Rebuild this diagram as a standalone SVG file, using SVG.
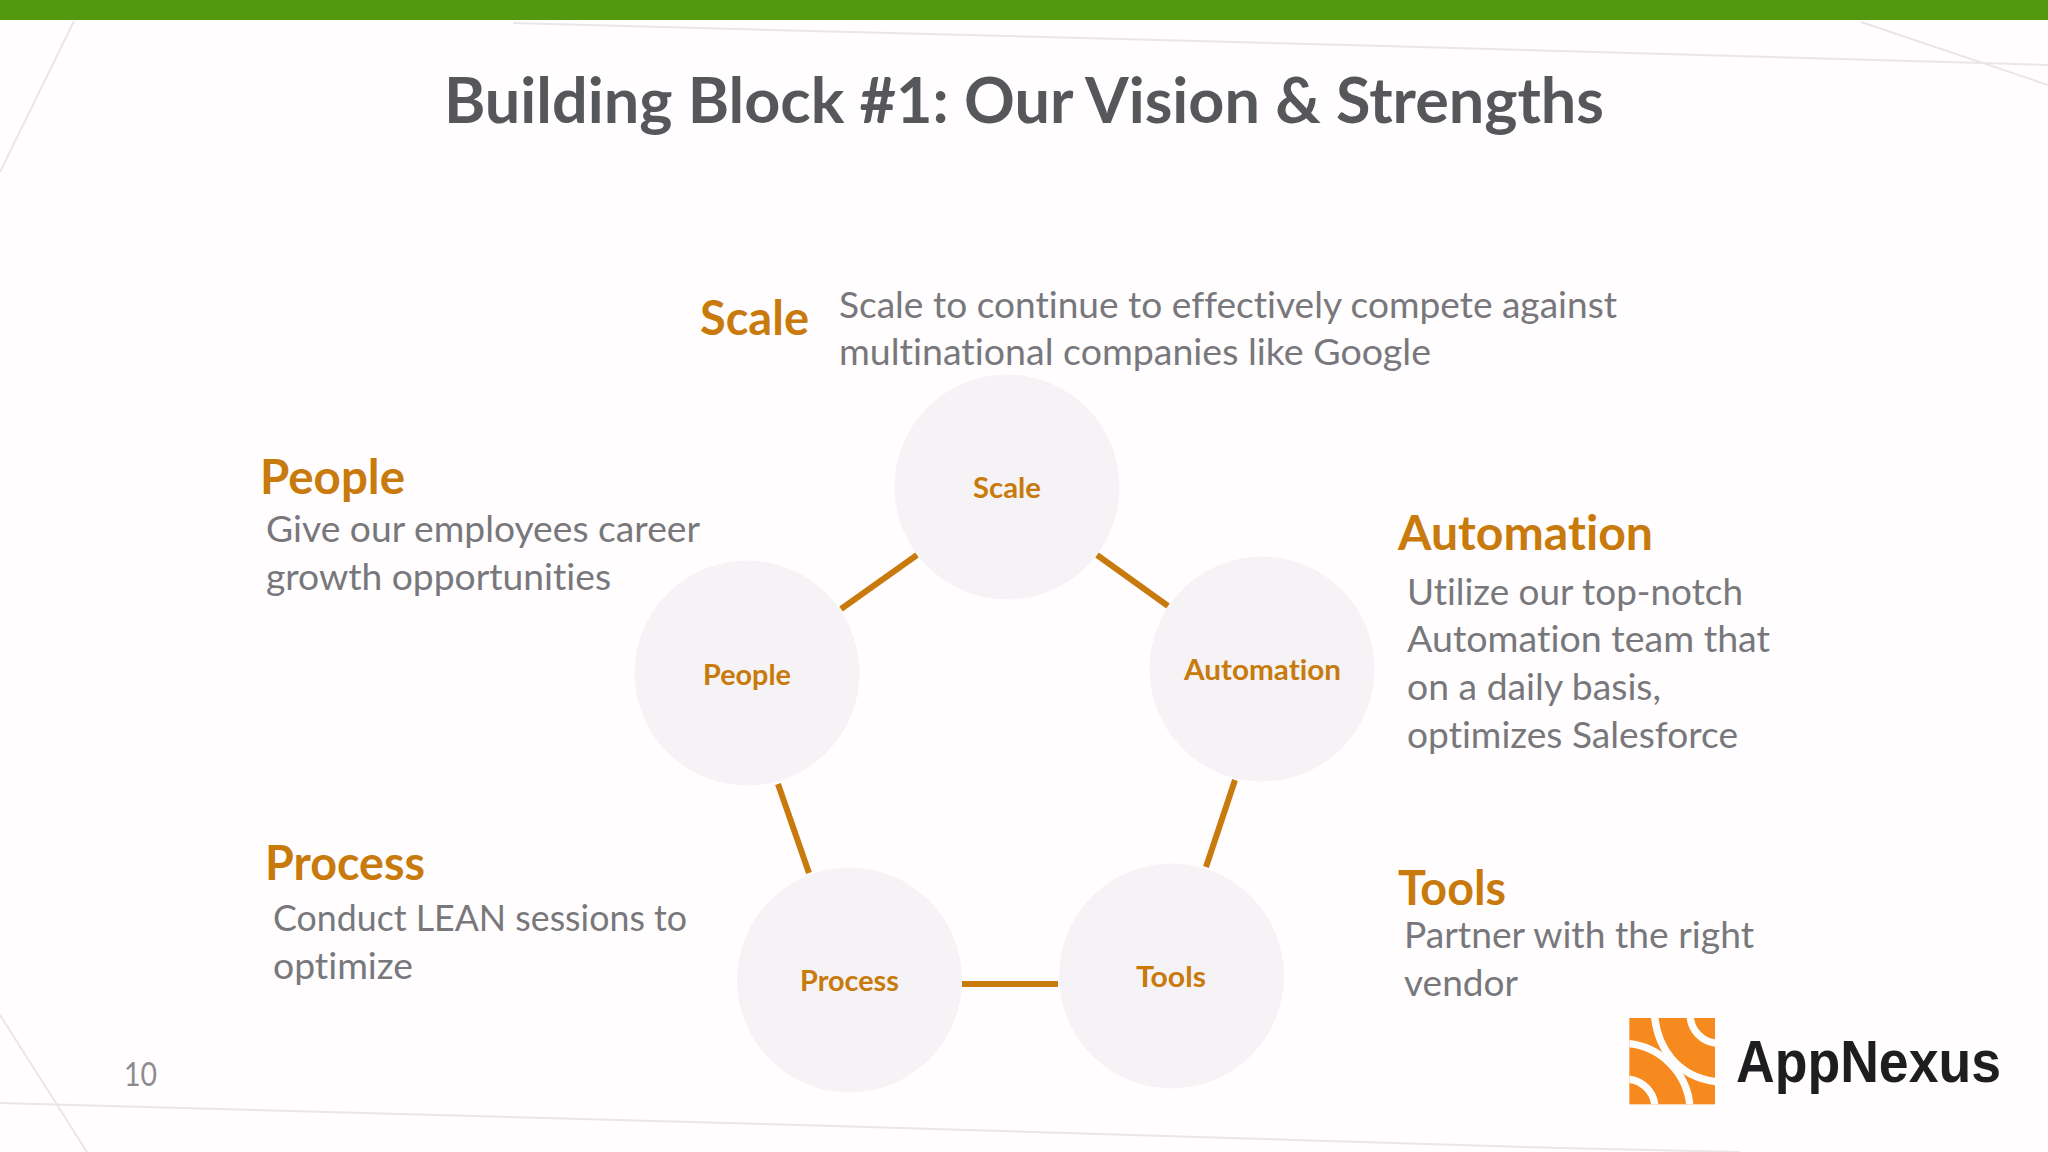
<svg xmlns="http://www.w3.org/2000/svg" width="2048" height="1152" viewBox="0 0 2048 1152">
<style>
text{font-family:Lato,"Open Sans","Liberation Sans",sans-serif;font-variant-ligatures:none}
.title{font-size:63px;font-weight:700;fill:#55575a}
.head{font-size:47px;font-weight:700;fill:#c87a0c}
.desc{font-size:37px;fill:#78787c}
.lab{font-size:29px;font-weight:700;fill:#c87a0c}
.node{fill:#f5f3f5}
.con{stroke:#c87a0c;stroke-width:6;fill:none}
.bg{stroke:#e8e6ea;stroke-width:2;fill:none}
.arc{fill:none;stroke:#fdfdfd;stroke-width:22}
</style>
<rect width="2048" height="1152" fill="#fffdfe"/>
<rect width="2048" height="20" fill="#52990f"/>
<g id="background-lines">
<path class="bg" d="M513 23L700 28L1348 45L2048 65"/>
<path class="bg" d="M1861 22L2048 85"/>
<path class="bg" d="M74 21L0 172"/>
<path class="bg" d="M0 1103L800 1125L1560 1148L1740 1152"/>
<path class="bg" d="M0 1015L87 1152"/>
</g>
<text class="title" x="444" y="123" textLength="1160" lengthAdjust="spacingAndGlyphs">Building Block #1: Our Vision &amp; Strengths</text>
<g id="connectors">
<path class="con" d="M1097 555L1168 606"/>
<path class="con" d="M917 555L841 609"/>
<path class="con" d="M778 784L809 873"/>
<path class="con" d="M1235 780L1206 867"/>
<path class="con" d="M962 984L1058 984"/>
</g>
<g id="node-scale"><circle class="node" cx="1007" cy="487" r="112.5"/><text class="lab" x="973" y="498" textLength="68" lengthAdjust="spacingAndGlyphs">Scale</text></g>
<g id="node-people"><circle class="node" cx="747" cy="673" r="112.5"/><text class="lab" x="703" y="685" textLength="88" lengthAdjust="spacingAndGlyphs">People</text></g>
<g id="node-automation"><circle class="node" cx="1262" cy="669" r="112.5"/><text class="lab" x="1184" y="680" textLength="157" lengthAdjust="spacingAndGlyphs">Automation</text></g>
<g id="node-process"><circle class="node" cx="849.5" cy="980" r="112.5"/><text class="lab" x="800" y="991" textLength="99" lengthAdjust="spacingAndGlyphs">Process</text></g>
<g id="node-tools"><circle class="node" cx="1171.5" cy="976" r="112.5"/><text class="lab" x="1136" y="987" textLength="70" lengthAdjust="spacingAndGlyphs">Tools</text></g>
<g id="text-scale">
<text class="head" x="700" y="335" textLength="109" lengthAdjust="spacingAndGlyphs">Scale</text>
<text class="desc" x="839" y="318" textLength="778" lengthAdjust="spacingAndGlyphs">Scale to continue to effectively compete against</text>
<text class="desc" x="839" y="365" textLength="592" lengthAdjust="spacingAndGlyphs">multinational companies like Google</text>
</g>
<g id="text-people">
<text class="head" x="260" y="494" textLength="145" lengthAdjust="spacingAndGlyphs">People</text>
<text class="desc" x="266" y="542" textLength="434" lengthAdjust="spacingAndGlyphs">Give our employees career</text>
<text class="desc" x="266" y="590" textLength="345" lengthAdjust="spacingAndGlyphs">growth opportunities</text>
</g>
<g id="text-automation">
<text class="head" x="1398" y="550" textLength="255" lengthAdjust="spacingAndGlyphs">Automation</text>
<text class="desc" x="1407" y="605" textLength="336" lengthAdjust="spacingAndGlyphs">Utilize our top-notch</text>
<text class="desc" x="1407" y="652" textLength="363" lengthAdjust="spacingAndGlyphs">Automation team that</text>
<text class="desc" x="1407" y="700" textLength="254" lengthAdjust="spacingAndGlyphs">on a daily basis,</text>
<text class="desc" x="1407" y="748" textLength="331" lengthAdjust="spacingAndGlyphs">optimizes Salesforce</text>
</g>
<g id="text-process">
<text class="head" x="265" y="880" textLength="160" lengthAdjust="spacingAndGlyphs">Process</text>
<text class="desc" x="273" y="931" textLength="414" lengthAdjust="spacingAndGlyphs">Conduct LEAN sessions to</text>
<text class="desc" x="273" y="979" textLength="140" lengthAdjust="spacingAndGlyphs">optimize</text>
</g>
<g id="text-tools">
<text class="head" x="1398" y="905" textLength="108" lengthAdjust="spacingAndGlyphs">Tools</text>
<text class="desc" x="1404" y="948" textLength="350" lengthAdjust="spacingAndGlyphs">Partner with the right</text>
<text class="desc" x="1404" y="996" textLength="114" lengthAdjust="spacingAndGlyphs">vendor</text>
</g>
<text x="124" y="1086" font-size="33" fill="#8c8c90" textLength="33" lengthAdjust="spacingAndGlyphs">10</text>
<g id="logo">
<g transform="translate(1560 980) scale(.33333)">
<clipPath id="lc"><rect x="208" y="114" width="257" height="259"/></clipPath>
<rect x="208" y="114" width="257" height="259" fill="#f68a1e"/>
<g clip-path="url(#lc)">
<path class="arc" d="M283 100C290 200 350 295 480 306"/>
<path class="arc" d="M195 190C300 195 385 280 390 385"/>
<path class="arc" d="M390 105C392 150 425 188 475 190"/>
<path class="arc" d="M195 297C245 297 285 335 285 385"/>
</g>
</g>
<text x="1736" y="1082" font-size="59" font-weight="700" fill="#1e1d1f" style="font-family:'Liberation Sans',Arial,sans-serif" textLength="265" lengthAdjust="spacingAndGlyphs">AppNexus</text>
</g>
</svg>
